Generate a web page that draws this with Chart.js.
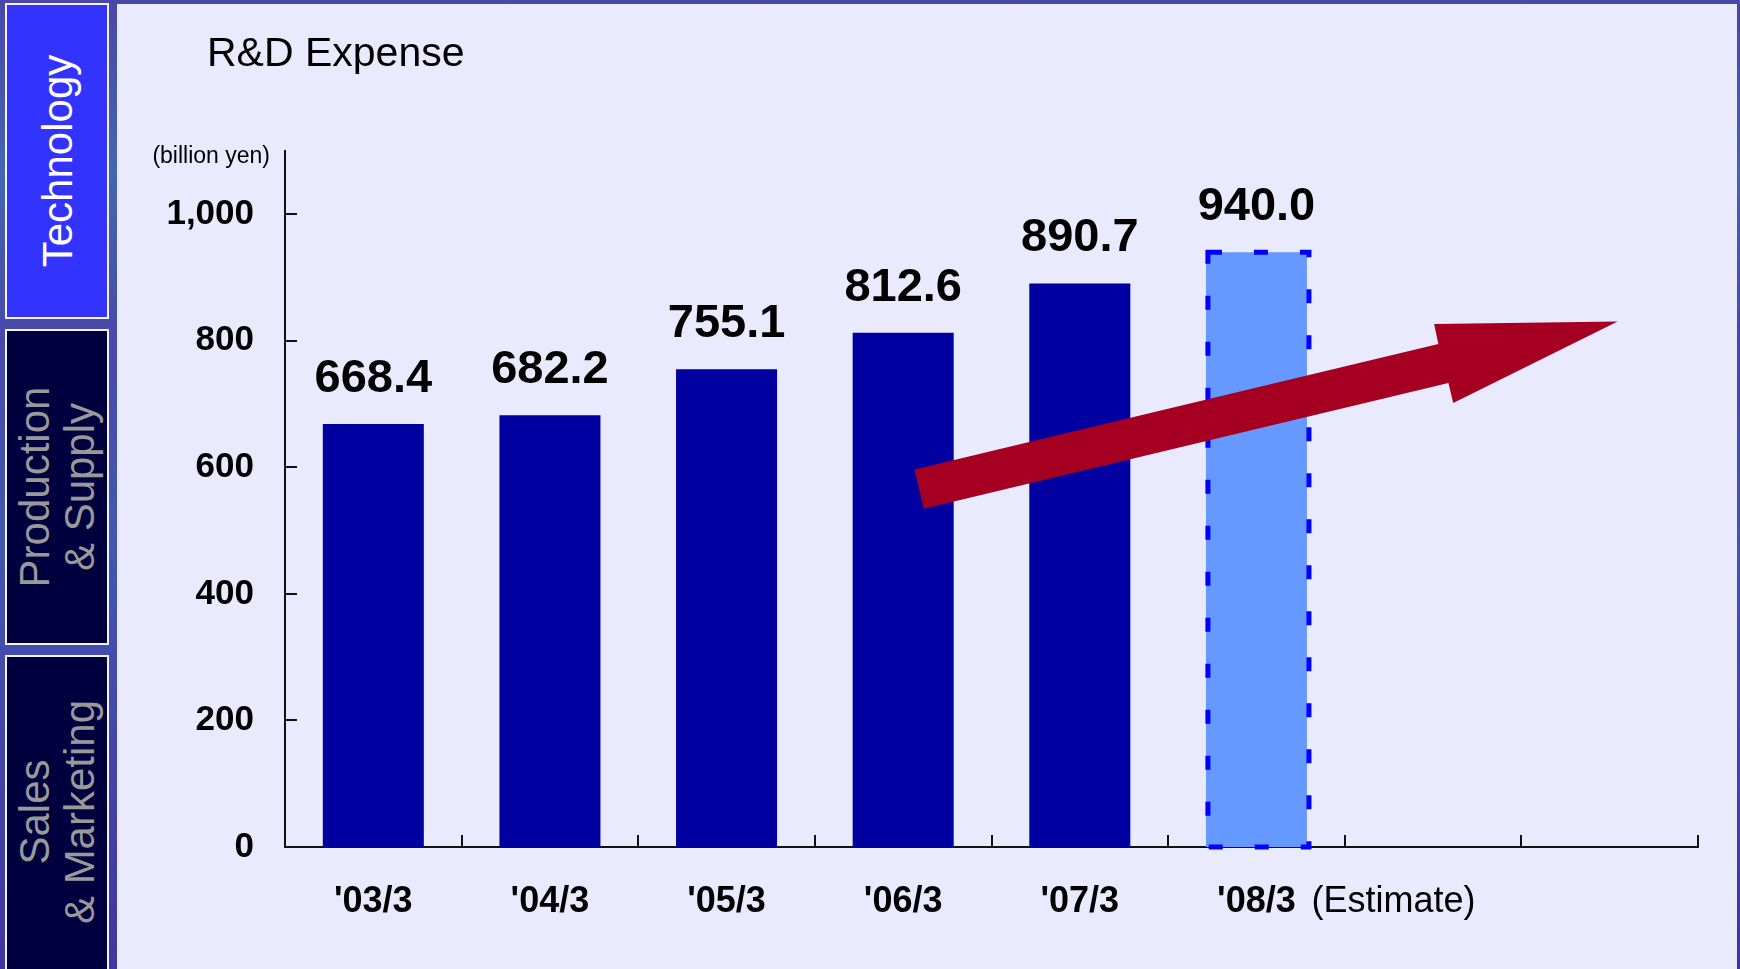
<!DOCTYPE html>
<html>
<head>
<meta charset="utf-8">
<script src="https://cdn.jsdelivr.net/npm/chart.js@4"></script>
<style>
  html, body { margin: 0; padding: 0; }
  body {
    width: 1740px; height: 969px; overflow: hidden; position: relative;
    background: linear-gradient(to bottom, #4a46aa 0%, #4466b0 18%, #4848aa 35%, #4456b0 55%, #4234a2 100%);
    font-family: "Liberation Sans", Arial, sans-serif;
  }
  .tab {
    position: absolute; left: 5px; width: 104px; box-sizing: border-box;
    border: 2px solid #f4f4ff; overflow: hidden;
  }
  .tab span {
    position: absolute; left: 50%; top: 50%; white-space: nowrap; text-align: center;
    transform: translate(-50%, -50%) rotate(-90deg);
    font-size: 42px; line-height: 45px;
  }
  #panel {
    position: absolute; left: 117px; top: 4px; width: 1620px; height: 965px;
    background: #eaeafe;
  }
</style>
</head>
<body>
<div class="tab" style="top:3px;height:316px;background:#3333ff;"><span style="color:#ffffff;">Technology</span></div>
<div class="tab" style="top:329px;height:316px;background:#00003f;"><span style="color:#999999;">Production<br>&amp; Supply</span></div>
<div class="tab" style="top:655px;height:320px;background:#00003f;"><span style="color:#999999;margin-top:-3px;">Sales<br>&amp; Marketing</span></div>
<div id="panel"><canvas id="canvas" width="1620" height="965"></canvas></div>
<script>
var categories = ["'03/3", "'04/3", "'05/3", "'06/3", "'07/3", "'08/3", '', ''];
var expense = [668.4, 682.2, 755.1, 812.6, 890.7, 940.0, null, null];
var yTicks = [0, 200, 400, 600, 800, 1000];
var estimateIndex = 5;

var FONT = '"Liberation Sans", Arial, sans-serif';

// arrow outline in (category index, value) space
var arrowShape = [
    [3.064, 596.7], [6.030, 795.1], [6.006, 826.7], [7.045, 830.5],
    [6.114, 701.9], [6.087, 733.5], [3.116, 534.4]
];

var extras = {
    id: 'extras',
    afterDatasetsDraw: function(chart) {
        var ctx = chart.ctx, area = chart.chartArea;
        var x = chart.scales.x, y = chart.scales.y;
        var meta = chart.getDatasetMeta(0);
        ctx.save();

        // inward tick marks
        ctx.strokeStyle = '#111';
        ctx.lineWidth = 2;
        ctx.beginPath();
        yTicks.forEach(function(v) {
            var py = Math.round(y.getPixelForValue(v));
            ctx.moveTo(area.left, py);
            ctx.lineTo(area.left + 12, py);
        });
        for (var i = 0; i < categories.length; i++) {
            var px = Math.round(x.getPixelForValue(i + 0.5));
            ctx.moveTo(px, area.bottom);
            ctx.lineTo(px, area.bottom - 12);
        }
        ctx.stroke();

        // dashed outline of the estimate bar
        var est = meta.data[estimateIndex].getProps(['x', 'y', 'base', 'width'], true);
        ctx.setLineDash([14, 32]);
        ctx.strokeStyle = '#0000ff';
        ctx.lineWidth = 5;
        ctx.strokeRect(est.x - est.width / 2 + 2, est.y, est.width, est.base - est.y);
        ctx.setLineDash([]);

        // trend arrow
        ctx.fillStyle = '#a50021';
        ctx.beginPath();
        arrowShape.forEach(function(p, k) {
            var ax = x.getPixelForValue(p[0]), ay = y.getPixelForValue(p[1]);
            if (k === 0) ctx.moveTo(ax, ay); else ctx.lineTo(ax, ay);
        });
        ctx.closePath();
        ctx.fill();

        // value labels
        ctx.fillStyle = '#000';
        ctx.textAlign = 'center';
        ctx.textBaseline = 'alphabetic';
        ctx.font = 'bold 47px ' + FONT;
        meta.data.forEach(function(bar, i) {
            if (expense[i] === null) return;
            ctx.fillText(expense[i].toFixed(1), bar.x, bar.y - 32);
        });

        // "(Estimate)" next to the last label
        ctx.font = '36px ' + FONT;
        ctx.textAlign = 'left';
        ctx.textBaseline = 'middle';
        ctx.fillText('(Estimate)', x.getPixelForValue(estimateIndex) + 55, area.bottom + 55);

        // unit
        ctx.font = '23px ' + FONT;
        ctx.textAlign = 'right';
        ctx.textBaseline = 'alphabetic';
        ctx.fillText('(billion yen)', area.left - 15, 159);

        // title
        ctx.font = '41px ' + FONT;
        ctx.textAlign = 'left';
        ctx.fillText('R&D Expense', 90, 62);

        ctx.restore();
    }
};

window.onload = function() {
    var ctx = document.getElementById('canvas').getContext('2d');
    window.chart = new Chart(ctx, {
        type: 'bar',
        data: {
            labels: categories,
            datasets: [{
                data: expense,
                backgroundColor: ['#0000a0', '#0000a0', '#0000a0', '#0000a0', '#0000a0', '#6699ff', '#0000a0', '#0000a0'],
                borderWidth: 0,
                categoryPercentage: 1,
                barPercentage: 0.572
            }]
        },
        options: {
            responsive: false,
            animation: false,
            devicePixelRatio: 1,
            layout: { padding: { left: 0, top: 147, right: 39, bottom: 0 } },
            plugins: {
                legend: { display: false },
                title: { display: false },
                tooltip: { enabled: false }
            },
            scales: {
                x: {
                    grid: { display: false, drawTicks: false },
                    border: { display: true, color: '#111', width: 2 },
                    ticks: {
                        color: '#000',
                        padding: 33,
                        maxRotation: 0,
                        autoSkip: false,
                        font: { family: FONT, size: 36, weight: 'bold' }
                    },
                    afterFit: function(scale) { scale.height = 122; }
                },
                y: {
                    min: 0,
                    max: 1100,
                    grid: { display: false, drawTicks: false },
                    border: { display: true, color: '#111', width: 2 },
                    ticks: {
                        stepSize: 200,
                        includeBounds: false,
                        color: '#000',
                        padding: 31,
                        font: { family: FONT, size: 35, weight: 'bold' }
                    },
                    afterFit: function(scale) { scale.width = 168; }
                }
            }
        },
        plugins: [extras]
    });
};
</script>
</body>
</html>
